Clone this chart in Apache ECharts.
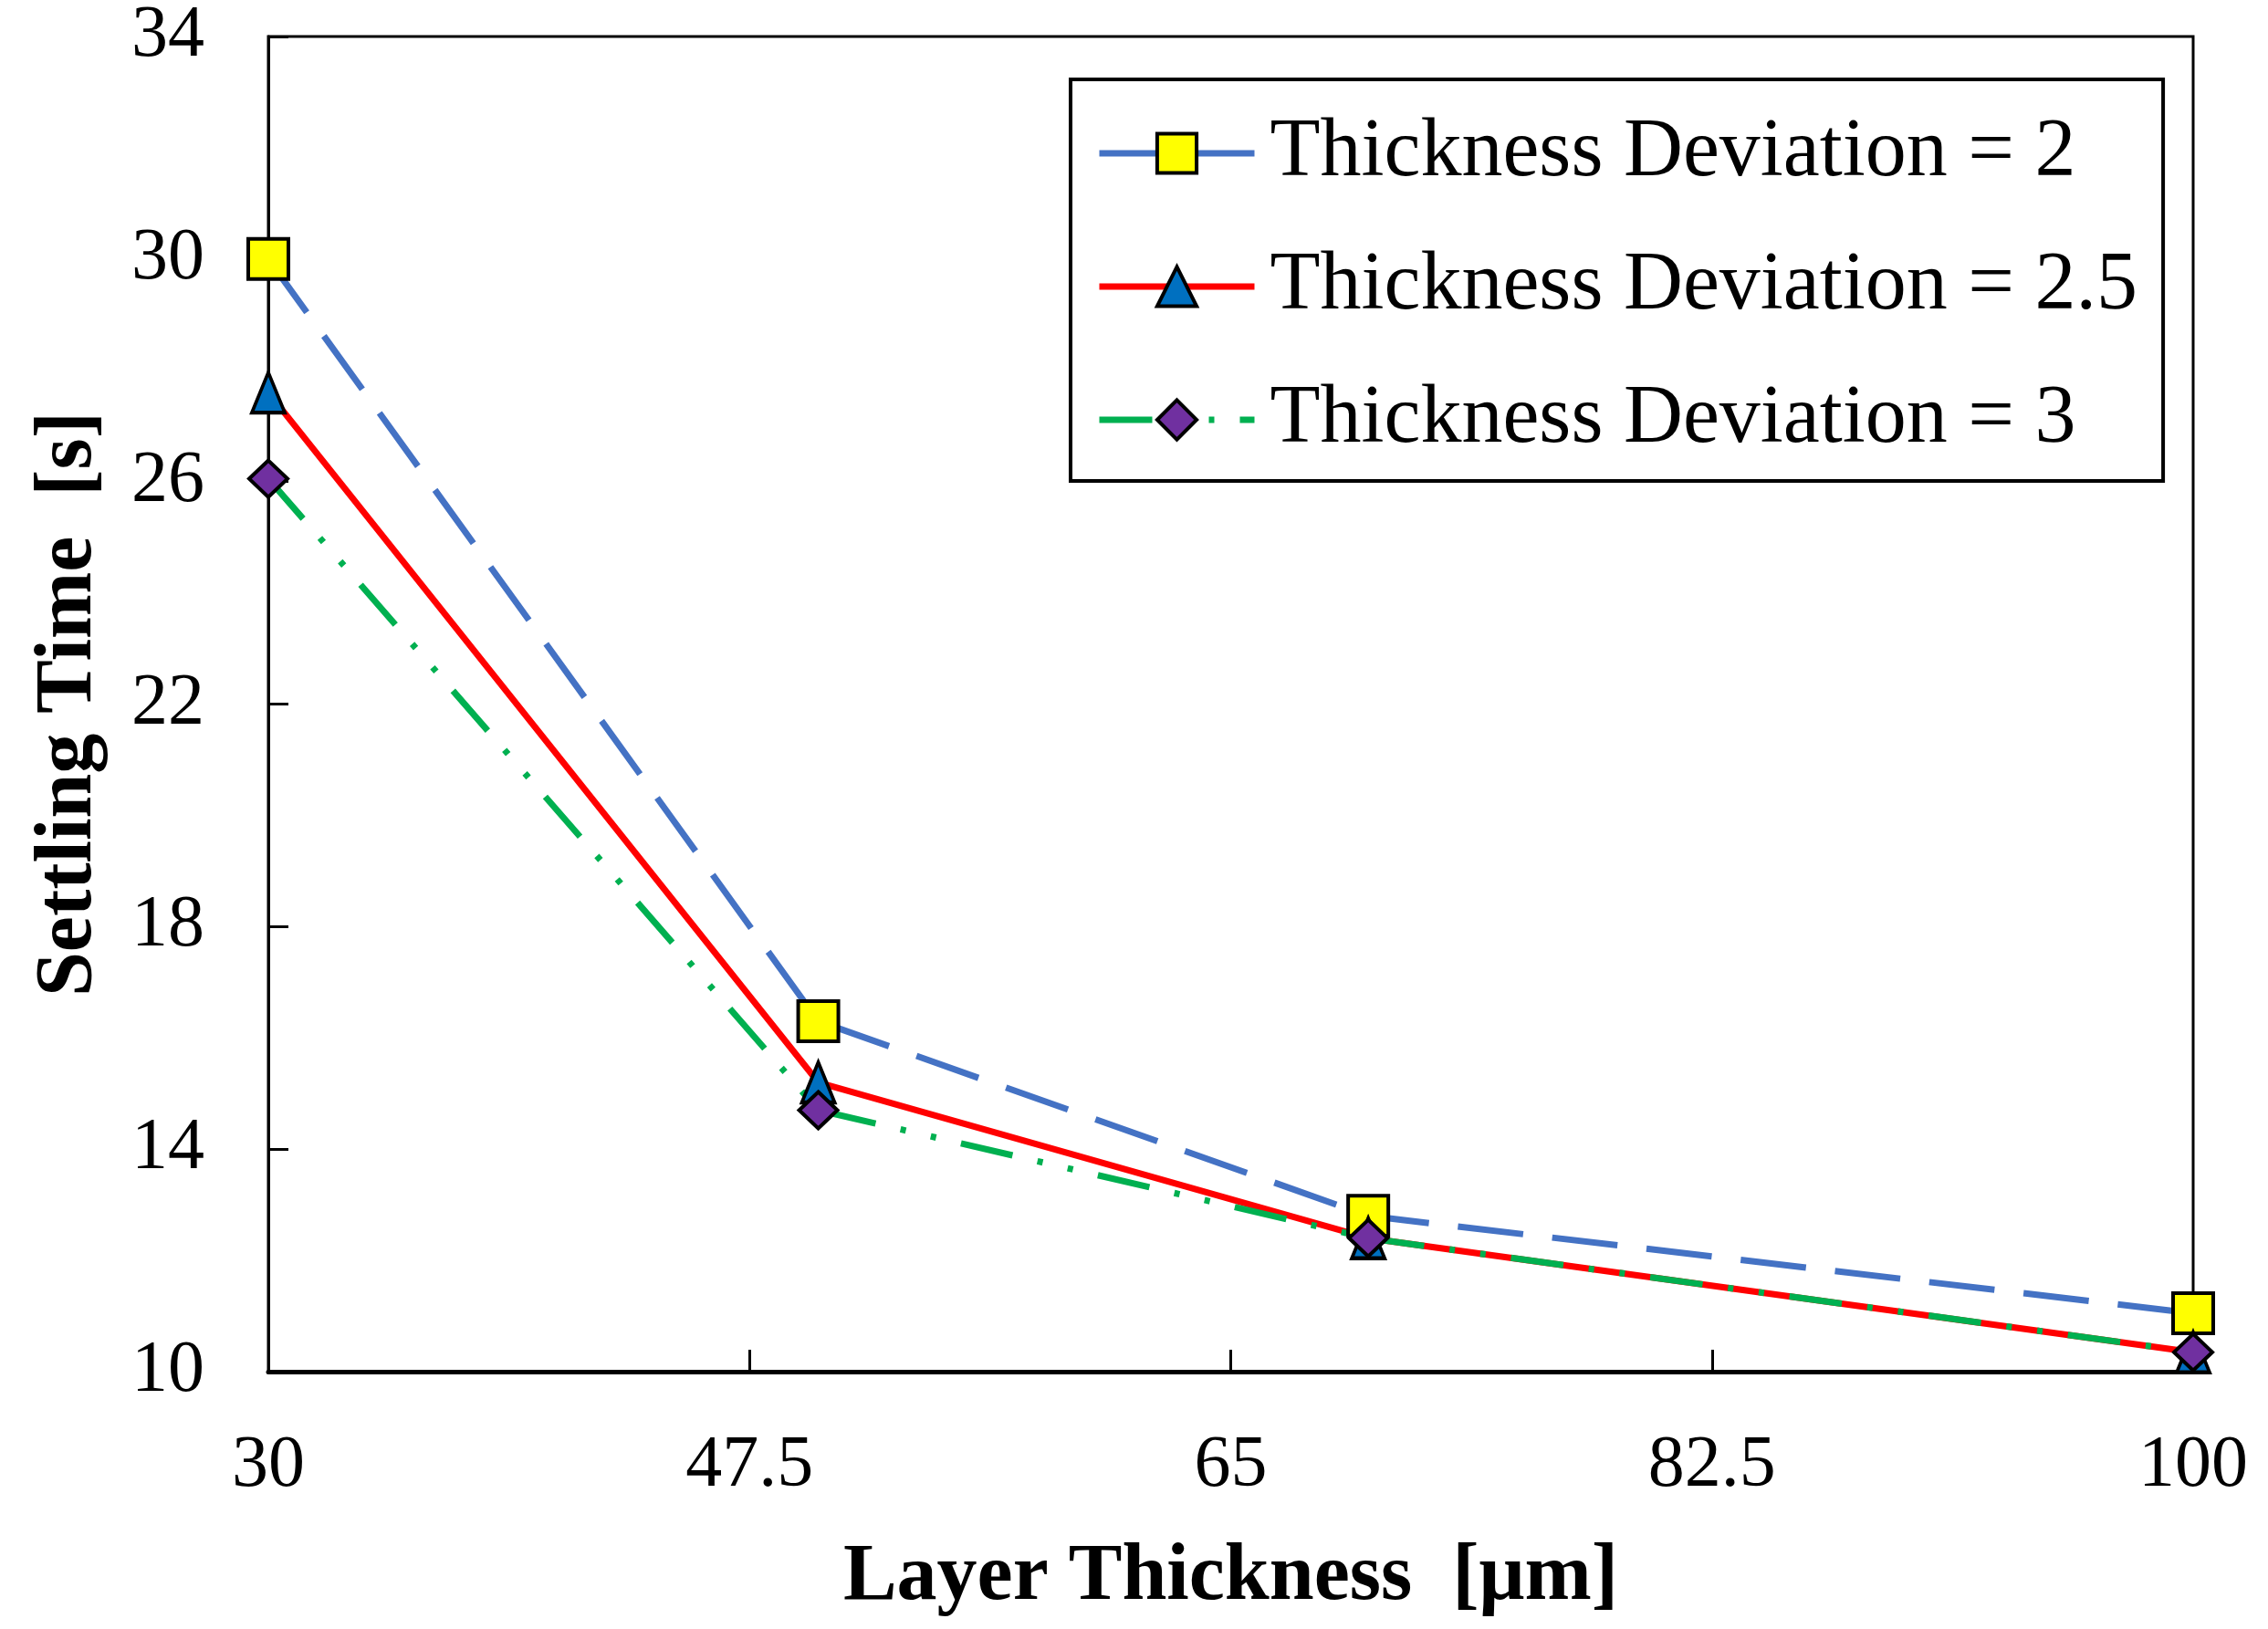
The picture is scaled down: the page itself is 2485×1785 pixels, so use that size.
<html>
<head>
<meta charset="utf-8" />
<title>Settling Time</title>
<script src="https://cdn.jsdelivr.net/npm/echarts@6/dist/echarts.min.js"></script>
<style type="text/css">
html, body { margin: 0; padding: 0; background: #fff; }
#main { width: 2485px; height: 1785px; }
</style>
</head>
<body>
<div id="main"></div>
<script type="text/javascript">
// layer thickness [um] on x, settling time [s] on y
var thickness = [30, 50, 70, 100];
var dev2 = [30.0, 16.3, 12.8, 11.05];
var dev25 = [27.6, 15.2, 12.4, 10.35];
var dev3 = [26.05, 14.7, 12.4, 10.35];
var seriesNames = ["Thickness Deviation = 2", "Thickness Deviation = 2.5", "Thickness Deviation = 3"];
var xTicks = [30, 47.5, 65, 82.5, 100];
var yTicks = [10, 14, 18, 22, 26, 30, 34];

function pairs(ys) {
	return thickness.map(function (x, i) { return [x, ys[i]]; });
}

var serif = "'Liberation Serif', 'Times New Roman', serif";
var myChart = echarts.init(document.getElementById("main"));

var option = {
	backgroundColor: "#ffffff",
	animation: false,
	grid: {
		left: 294, right: 82, top: 39, bottom: 282,
		show: true, borderColor: "#000", borderWidth: 3,
		containLabel: false
	},
	legend: {
		left: 1173, top: 87,
		orient: "vertical",
		padding: [35, 28, 21, 28],
		borderColor: "#000", borderWidth: 4,
		backgroundColor: "#fff",
		itemWidth: 170, itemHeight: 54, itemGap: 54,
		lineStyle: { width: 7 },
		itemStyle: { borderColor: "#000", borderWidth: 4 },
		textStyle: { fontFamily: serif, fontSize: 90, color: "#000", lineHeight: 92, padding: [0, 0, 0, 12] },
		data: seriesNames
	},
	xAxis: {
		type: "value",
		min: xTicks[0], max: xTicks[xTicks.length - 1],
		interval: xTicks[1] - xTicks[0],
		name: "Layer Thickness  [μm]",
		nameLocation: "middle",
		nameGap: 182,
		nameTextStyle: { fontFamily: serif, fontSize: 88, fontWeight: "bold", color: "#000" },
		axisLine: { show: true, lineStyle: { color: "#000", width: 5 } },
		axisTick: { show: true, inside: true, length: 24, lineStyle: { color: "#000", width: 3 } },
		axisLabel: { fontFamily: serif, fontSize: 80, color: "#000", margin: 64 },
		splitLine: { show: false }
	},
	yAxis: {
		type: "value",
		min: yTicks[0], max: yTicks[yTicks.length - 1],
		interval: yTicks[1] - yTicks[0],
		name: "Settling Time  [s]",
		nameLocation: "middle",
		nameGap: 174,
		nameTextStyle: { fontFamily: serif, fontSize: 88, fontWeight: "bold", color: "#000" },
		axisLine: { show: true, lineStyle: { color: "#000", width: 3 } },
		axisTick: { show: true, inside: true, length: 22, lineStyle: { color: "#000", width: 3 } },
		axisLabel: { fontFamily: serif, fontSize: 80, color: "#000", margin: 70 },
		splitLine: { show: false }
	},
	series: [
		{
			name: seriesNames[0],
			type: "line",
			data: pairs(dev2),
			clip: false,
			symbol: "rect",
			symbolSize: 44,
			lineStyle: { color: "#4472C4", width: 7, type: [72, 32] },
			itemStyle: { color: "#FFFF00", borderColor: "#000", borderWidth: 4 }
		},
		{
			name: seriesNames[1],
			type: "line",
			data: pairs(dev25),
			clip: false,
			symbol: "triangle",
			symbolSize: [36, 44],
			lineStyle: { color: "#FF0000", width: 7, type: "solid" },
			itemStyle: { color: "#0070C0", borderColor: "#000", borderWidth: 4 }
		},
		{
			name: seriesNames[2],
			type: "line",
			data: pairs(dev3),
			clip: false,
			symbol: "diamond",
			symbolSize: [42, 40],
			lineStyle: { color: "#00B050", width: 7, type: [58, 28, 6, 28, 6, 28] },
			itemStyle: { color: "#7030A0", borderColor: "#000", borderWidth: 4 }
		}
	]
};

myChart.setOption(option);
</script>
</body>
</html>
